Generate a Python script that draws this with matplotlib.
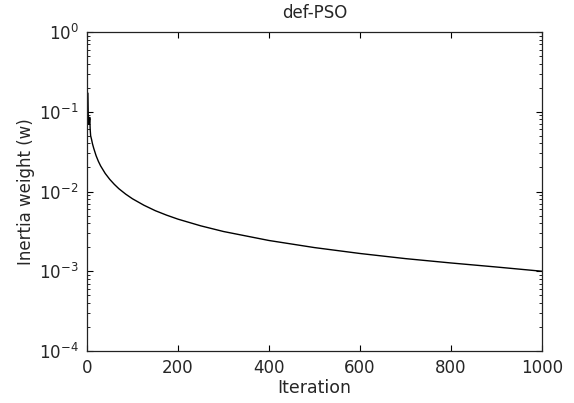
import matplotlib
matplotlib.use("Agg")
import matplotlib.pyplot as plt
from matplotlib.ticker import LogLocator, FixedLocator

plt.rcParams['font.family'] = ['DejaVu Sans']

iteration = [2, 3, 4, 5, 6, 7, 8, 10, 12, 15, 20, 25, 30, 40, 50, 60, 70, 85,
             100, 125, 150, 175, 200, 250, 300, 400, 500, 600, 700, 800, 900,
             1000]
inertia_weight = [0.17, 0.07, 0.085, 0.07, 0.085, 0.06, 0.05, 0.045, 0.0397,
                  0.0345, 0.0281, 0.0239, 0.0209, 0.01685, 0.0142, 0.0123,
                  0.01084, 0.00927, 0.0081, 0.00673, 0.00575, 0.00505, 0.0045,
                  0.00371, 0.00315, 0.00243, 0.00198, 0.00167, 0.00144,
                  0.00127, 0.00113, 0.00100]
x_ticks = [0, 200, 400, 600, 800, 1000]
title = "def-PSO"
x_label = "Iteration"
y_label = "Inertia weight (w)"

txt = '#262626'
fig = plt.figure(figsize=(5.74, 4.03), dpi=100)
ax = fig.add_axes([87/574, 1-351/403, (542-87)/574, (351-32)/403])
ax.plot(iteration, inertia_weight, color='black', lw=1.0)
ax.set_yscale('log')
ax.set_xlim(0, 1000)
ax.set_ylim(1e-4, 1)
ax.xaxis.set_major_locator(FixedLocator(x_ticks))
ax.yaxis.set_major_locator(LogLocator(base=10, numticks=10))
ax.yaxis.set_minor_locator(LogLocator(base=10, subs=range(2, 10), numticks=10))
ax.tick_params(which='both', direction='in', top=True, right=True,
               labelsize=12, colors='black', labelcolor=txt)
ax.tick_params(which='major', length=4, width=0.8, pad=6)
ax.tick_params(which='minor', length=2.2, width=0.6)
for s in ax.spines.values():
    s.set_linewidth(0.9)
    s.set_color('#222222')
ax.set_title(title, fontsize=12, color=txt, pad=10)
ax.set_xlabel(x_label, fontsize=12.5, color=txt, labelpad=1)
ax.set_ylabel(y_label, fontsize=12, color=txt, labelpad=3)
fig.savefig("out.png", dpi=100)
